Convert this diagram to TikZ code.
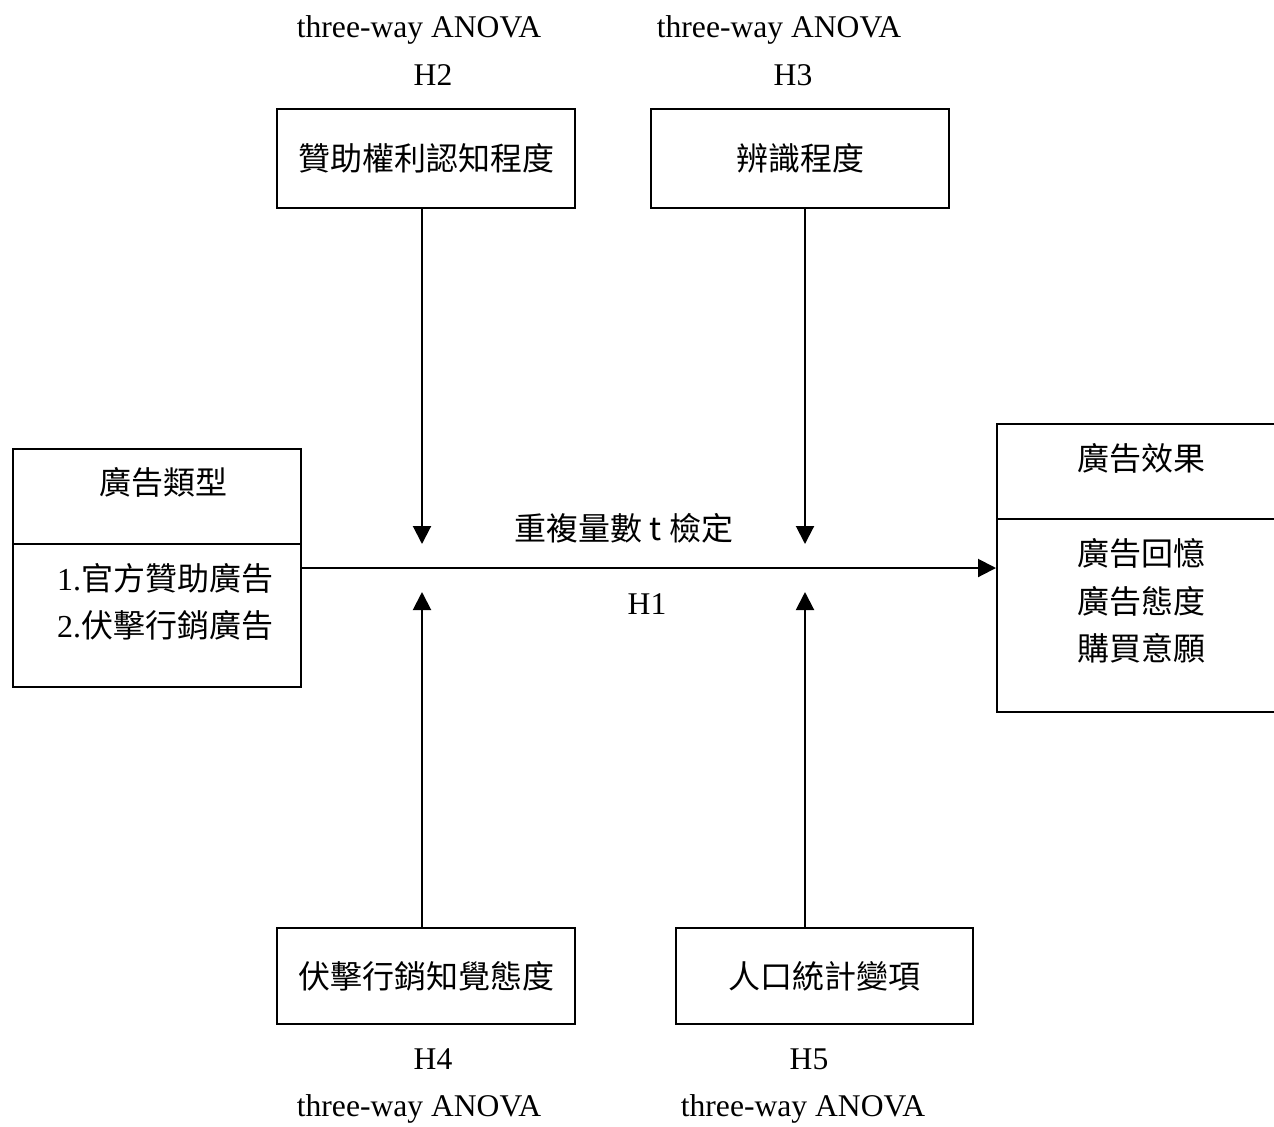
\documentclass[tikz,border=0pt]{standalone}
\usepackage{fontspec}
\setmainfont{Liberation Serif}
\newfontfamily\cjk{Noto Sans CJK TC}
\usetikzlibrary{arrows.meta}
\begin{document}
\begin{tikzpicture}[x=0.5pt,y=-0.5pt,line width=1pt,
  box/.style={draw,rectangle,inner sep=0pt,font=\cjk\fontsize{16}{19}\selectfont},
  cjktext/.style={inner sep=0pt,font=\cjk\fontsize{16}{19}\selectfont},
  lbl/.style={inner sep=0pt,anchor=base,font=\fontsize{15.8}{18}\selectfont},
  arr/.style={-{Triangle[length=9pt,width=9pt]}}]
\useasboundingbox (0,0) rectangle (1274,1126);
% top boxes
\node[box,minimum width=149pt,minimum height=49.5pt] (b2) at (426,158.5) {贊助權利認知程度};
\node[box,minimum width=149pt,minimum height=49.5pt] (b3) at (800,158.5) {辨識程度};
% bottom boxes
\node[box,minimum width=149pt,minimum height=48pt] (b4) at (426,976) {伏擊行銷知覺態度};
\node[box,minimum width=148.5pt,minimum height=48pt] (b5) at (824.5,976) {人口統計變項};
% left box
\node[draw,rectangle,minimum width=144pt,minimum height=119pt] (lt) at (157,568) {};
\draw (13,544) -- (301,544);
\node[cjktext] (ltt) at (163,482) {廣告類型};
\node[cjktext,font=\fontsize{16}{19}\selectfont] (lt1) at (165,578) {1.{\cjk 官方贊助廣告}};
\node[cjktext,font=\fontsize{16}{19}\selectfont] (lt2) at (165,625) {2.{\cjk 伏擊行銷廣告}};
% right box
\node[draw,rectangle,minimum width=146.5pt,minimum height=144pt] (rt) at (1143.5,568) {};
\draw (997,519) -- (1290,519);
\node[cjktext] (rtt) at (1141,458) {廣告效果};
\node[cjktext] (rt1) at (1141,553) {廣告回憶};
\node[cjktext] (rt2) at (1141,601) {廣告態度};
\node[cjktext] (rt3) at (1141,648) {購買意願};
% main arrow
\draw[arr] (lt.east) -- (rt.west);
\node[cjktext] (tt) at (624,528) {重複量數 t 檢定};
\node[lbl] (h1) at (647,614) {H1};
% moderating arrows
\coordinate (dn2) at (422,544);
\coordinate (dn3) at (805,544);
\coordinate (up4) at (422,592);
\coordinate (up5) at (805,592);
\draw[arr] (b2.south -| dn2) -- (dn2);
\draw[arr] (b3.south -| dn3) -- (dn3);
\draw[arr] (b4.north -| up4) -- (up4);
\draw[arr] (b5.north -| up5) -- (up5);
% labels
\node[lbl] (a2) at (419,37) {three-way ANOVA};
\node[lbl] (h2) at (433,85) {H2};
\node[lbl] (a3) at (779,37) {three-way ANOVA};
\node[lbl] (h3) at (793,85) {H3};
\node[lbl] (h4) at (433,1069) {H4};
\node[lbl] (a4) at (419,1116) {three-way ANOVA};
\node[lbl] (h5) at (809,1069) {H5};
\node[lbl] (a5) at (803,1116) {three-way ANOVA};
\end{tikzpicture}
\end{document}
